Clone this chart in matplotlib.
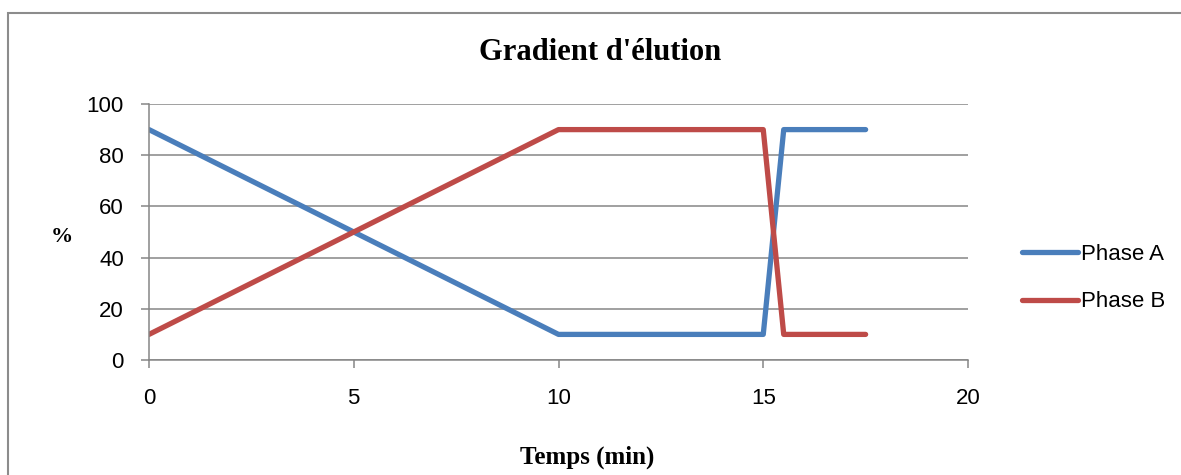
import matplotlib.pyplot as plt
from matplotlib.patches import Rectangle

# gradient program
temps = [0, 10, 15, 15.5, 17.5]
phase_a = [90, 10, 10, 90, 90]
phase_b = [10, 90, 90, 10, 10]

x_ticks = [0, 5, 10, 15, 20]
y_ticks = [0, 20, 40, 60, 80, 100]

blue = '#4A7EBB'
red = '#BE4B48'
grey = '#868686'

plt.rcParams['font.family'] = ['Liberation Sans', 'DejaVu Sans']

fig = plt.figure(figsize=(11.81, 4.75), dpi=100)
ax = fig.add_axes([149/1181, 1-360/475, (968-149)/1181, 256/475])

ax.plot(temps, phase_a, color=blue, lw=3.8, solid_capstyle='round', solid_joinstyle='round', label='Phase A')
ax.plot(temps, phase_b, color=red, lw=3.8, solid_capstyle='round', solid_joinstyle='round', label='Phase B')

ax.set_xlim(0, 20)
ax.set_ylim(0, 100)
ax.set_xticks(x_ticks)
ax.set_yticks(y_ticks)
ax.grid(axis='y', color=grey, lw=1.1)
ax.set_axisbelow(True)
for s in ['top', 'right']:
    ax.spines[s].set_visible(False)
for s in ['left', 'bottom']:
    ax.spines[s].set_color(grey)
    ax.spines[s].set_linewidth(1.1)
ax.tick_params(axis='both', color=grey, length=6, width=1.1, labelsize=16)
ax.tick_params(axis='y', pad=12)
ax.tick_params(axis='x', pad=14)

fig.text(600/1181, 1-53/475, "Gradient d'élution", family='Liberation Serif', weight='bold',
         fontsize=22, ha='center', va='center')
fig.text(62/1181, 1-237/475, '%', family='Liberation Serif', weight='bold',
         fontsize=16, ha='center', va='center')
fig.text(587/1181, 1-457/475, 'Temps (min)', family='Liberation Serif', weight='bold',
         fontsize=18, ha='center', va='center')

leg = ax.legend(loc='center left', frameon=False, fontsize=16, handlelength=2.5,
                handletextpad=0.15, labelspacing=1.2)
leg.set_bbox_to_anchor((1002/1181, 1-278/475), transform=fig.transFigure)

fig.patches.append(Rectangle((8/1181, -0.1), 1.2, 1-13.5/475 + 0.1, transform=fig.transFigure,
                             fill=False, edgecolor='#8c8c8c', lw=1.5))

fig.savefig('out.png', dpi=100)
